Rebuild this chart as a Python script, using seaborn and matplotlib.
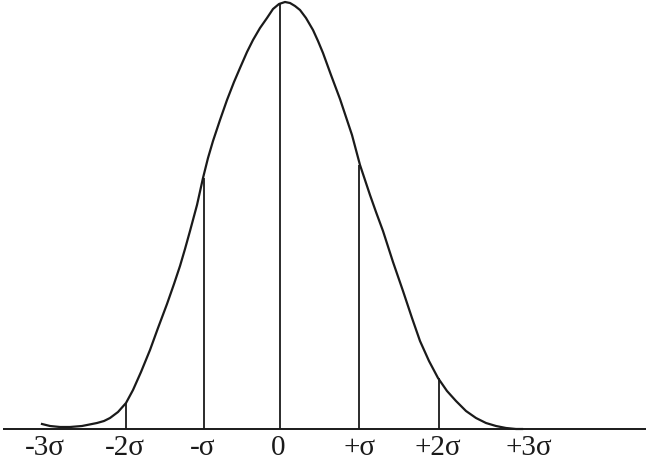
import seaborn as sns
import matplotlib.pyplot as plt
import pandas as pd

curve_x = [42, 50, 60, 70, 82, 97, 104, 110, 118, 126, 133, 141, 150, 158, 167, 174, 180,
           185, 190, 197, 203, 208, 213, 220, 227, 234, 240, 247, 253, 260, 267, 273, 279,
           285, 290, 295, 300, 306, 313, 318, 323, 331, 340, 346, 352, 356, 360, 365, 370,
           376, 383, 393, 403, 412, 420, 429, 438, 447, 456, 466, 476, 486, 496, 506, 516, 522]
curve_y = [424, 426, 427, 427, 426, 423, 421, 418, 412, 403, 390, 372, 350, 328, 304, 284, 266,
           249, 231, 205, 178, 158, 141, 120, 100, 82, 68, 52, 40, 28, 18, 9, 4,
           2, 3, 6, 10, 18, 30, 41, 53, 75, 99, 117, 135, 150, 165, 180, 195,
           212, 231, 262, 291, 318, 341, 361, 378, 391, 401, 411, 418, 423, 426, 428, 429, 429]

# sigma marks: label positions and top of each vertical line
mark_labels = ["-3σ", "-2σ", "-σ", "0", "+σ", "+2σ", "+3σ"]
mark_x = [45, 125, 203, 278, 360, 438, 529]
line_x = [126, 204, 280, 359, 439]
line_top = [403, 178, 3, 165, 378]

base_y = 429

df = pd.DataFrame({"x": curve_x, "y": curve_y})

fig = plt.figure(figsize=(6.46, 4.62), dpi=100)
ax = fig.add_axes([0, 0, 1, 1])

sns.lineplot(data=df, x="x", y="y", sort=False, color="#1a1a1a", linewidth=1.6, ax=ax)
ax.lines[0].set_solid_joinstyle("round")
ax.vlines(line_x, line_top, base_y, color="#1a1a1a", linewidth=1.3)
ax.hlines(base_y, 3, 646, color="#1a1a1a", linewidth=1.4)

for lab, x in zip(mark_labels, mark_x):
    ax.text(x, 461, lab, ha="center", va="bottom", fontsize=21,
            family=["Liberation Serif", "DejaVu Serif"], color="#1a1a1a")

ax.set_xlim(0, 646)
ax.set_ylim(462, 0)
ax.axis("off")

fig.savefig("out.png", dpi=100)
